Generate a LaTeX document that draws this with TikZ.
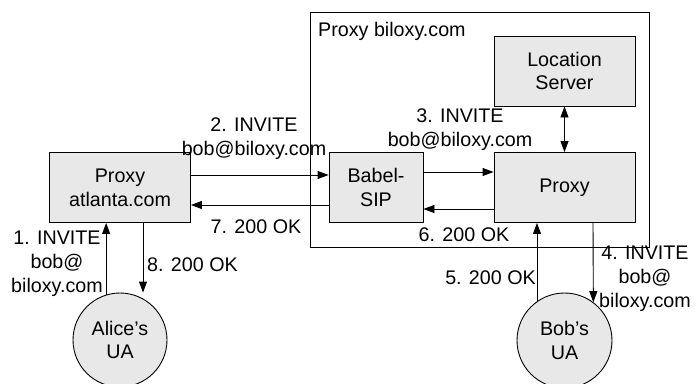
\documentclass[tikz,border=0pt]{standalone}
\usepackage{fontspec}
\setmainfont{Liberation Sans}
\usetikzlibrary{arrows.meta}
\definecolor{boxfill}{RGB}{232,232,232}
\tikzset{
  box/.style={draw=black, fill=boxfill, line width=0.9pt, align=center, inner sep=0pt},
  ua/.style={draw=black, fill=boxfill, line width=0.9pt, circle, align=center, inner sep=0pt},
  lbl/.style={align=center, inner sep=0pt},
  arr/.style={line width=0.9pt, -{Triangle[length=11pt,width=8pt]}},
  darr/.style={line width=0.9pt, {Triangle[length=11pt,width=8pt]}-{Triangle[length=11pt,width=8pt]}},
}
\begin{document}
\begin{tikzpicture}[x=1pt,y=-1pt, font=\fontsize{19.7}{23.8}\selectfont]
\useasboundingbox (0,0) rectangle (696,383);
\node[draw=black, line width=0.9pt, minimum width=339pt, minimum height=235pt, inner sep=0pt] (outer) at (479.5,129.5) {};
\node[lbl, anchor=base west] (outerlbl) at (318,36) {Proxy biloxy.com};
\node[box, minimum width=141pt, minimum height=70pt] (atl) at (120,187.5) {Proxy\\atlanta.com};
\node[box, minimum width=94pt, minimum height=70pt] (bab) at (376,187.5) {Babel-\\SIP};
\node[box, minimum width=141pt, minimum height=70pt] (prox) at (564.5,187.5) {Proxy};
\node[box, minimum width=141pt, minimum height=70pt] (loc) at (564.5,71) {Location\\Server};
\node[ua, minimum size=94pt] (alice) at (120,340) {Alice’s\\UA};
\node[ua, minimum size=95pt] (bob) at (564.5,340.5) {Bob’s\\UA};

\draw[arr] ([yshift=12.5pt]atl.east) -- ([yshift=12.5pt]bab.west);
\draw[arr] ([yshift=-17.5pt]bab.west) -- ([yshift=-17.5pt]atl.east);
\draw[arr] ([yshift=15.5pt]bab.east) -- ([yshift=15.5pt]prox.west);
\draw[arr] ([yshift=-21.5pt]prox.west) -- ([yshift=-21.5pt]bab.east);
\draw[darr] (loc.south) -- (prox.north);
\draw[arr] (alice.107) -- (alice.107 |- atl.south);
\draw[arr] ([xshift=23pt]atl.south) -- ([xshift=23pt]alice.north);
\draw[arr] (bob.125) -- (bob.125 |- prox.south);
\draw[arr] ([xshift=28.5pt]prox.south) -- (bob.53);

\node[lbl] (l2) at (254,138.5) {2. INVITE\\bob@biloxy.com};
\node[lbl] (l7) at (256,227) {7. 200 OK};
\node[lbl] (l3) at (460,129.5) {3. INVITE\\bob@biloxy.com};
\node[lbl] (l6) at (464,235) {6. 200 OK};
\node[lbl] (l1) at (57,264) {1. INVITE\\bob@\\biloxy.com};
\node[lbl, anchor=west] (l8) at (147,265) {8. 200 OK};
\node[lbl, anchor=east] (l5) at (536,278) {5. 200 OK};
\node[lbl] (l4) at (645,279) {4. INVITE\\bob@\\biloxy.com};
\end{tikzpicture}
\end{document}
